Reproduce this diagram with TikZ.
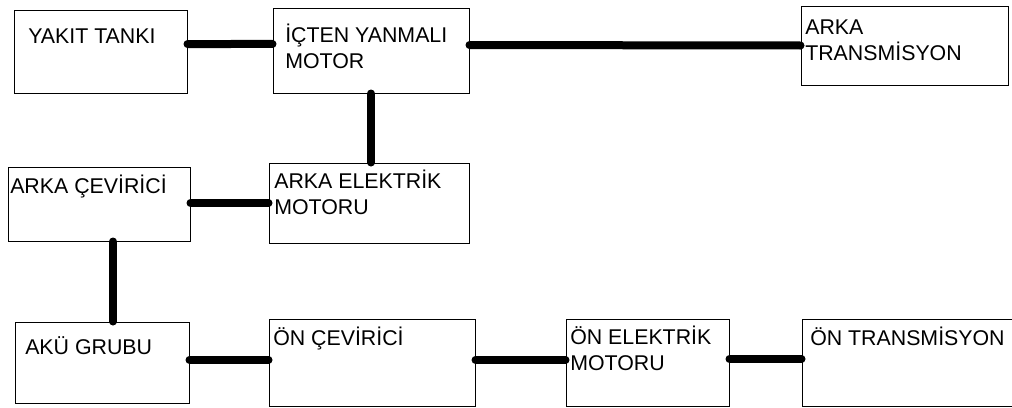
\documentclass[tikz,border=0pt]{standalone}
\usepackage{fontspec}
\setmainfont{Liberation Sans}

\begin{document}
\begin{tikzpicture}[x=0.75pt,y=-0.75pt,
		box/.style 2 args={draw,line width=0.75pt,inner sep=0pt,minimum width=#1*0.75pt,minimum height=#2*0.75pt},
		lbl/.style={font=\fontsize{16}{19.5}\selectfont,anchor=base west,inner sep=0pt,align=left},
		link/.style={line width=6pt,line cap=round}]
			\clip (0,0) rectangle (1012,407);
			
			\node[box={173}{83}] (tank) at (100.5,51.5) {};
			\node[box={196}{85}] (ice) at (371,50.5) {};
			\node[box={207}{79}] (reartr) at (904.5,45.5) {};
			\node[box={182}{74}] (rearinv) at (99,204) {};
			\node[box={200}{80}] (rearem) at (369,203) {};
			\node[box={174}{81}] (battery) at (102,362.5) {};
			\node[box={206}{87}] (frontinv) at (372,362.5) {};
			\node[box={163}{87}] (frontem) at (647.5,362.5) {};
			\node[box={230}{87}] (fronttr) at (917,362.5) {};
			
			% two-line labels sit on the baseline of their last line
			\node[lbl] (tanktxt) at (28,43) {YAKIT TANKI};
			\node[lbl] (icetxt) at (285,68) {İÇTEN YANMALI\\MOTOR};
			\node[lbl] (reartrtxt) at (805,60) {ARKA\\TRANSMİSYON};
			\node[lbl] (rearinvtxt) at (10,193) {ARKA ÇEVİRİCİ};
			\node[lbl] (rearemtxt) at (274,214) {ARKA ELEKTRİK\\MOTORU};
			\node[lbl] (batterytxt) at (25,354) {AKÜ GRUBU};
			\node[lbl] (frontinvtxt) at (273,345) {ÖN ÇEVİRİCİ};
			\node[lbl] (frontemtxt) at (570,370) {ÖN ELEKTRİK\\MOTORU};
			\node[lbl] (fronttrtxt) at (810,345) {ÖN TRANSMİSYON};
			
			\draw[link] ([yshift=5.6pt]tank.east) -- ([yshift=4.9pt]ice.west);
			\draw[link] ([yshift=4.1pt]ice.east) -- (reartr.west);
			\draw[link] (ice.south) -- (ice.south |- rearem.north);
			\draw[link] (rearem.west -| rearinv.east) -- (rearem.west);
			\draw[link] ([xshift=10.5pt]rearinv.south) -- ([xshift=8.25pt]battery.north);
			\draw[link] ([yshift=2pt]battery.east) -- ([yshift=2pt]frontinv.west);
			\draw[link] ([yshift=2pt]frontinv.east) -- ([yshift=2pt]frontem.west);
			\draw[link] ([yshift=2.6pt]frontem.east) -- ([yshift=2.6pt]fronttr.west);
		\end{tikzpicture}
\end{document}
